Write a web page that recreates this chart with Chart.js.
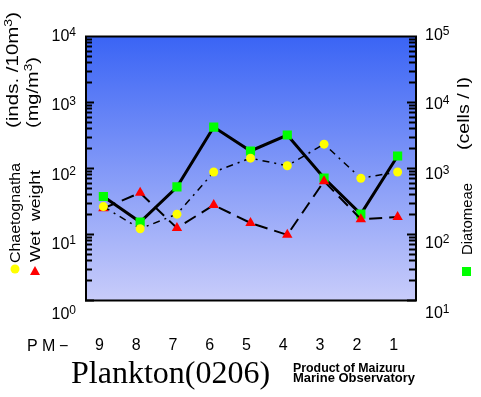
<!DOCTYPE html>
<html>
<head>
<meta charset="utf-8">
<script src="https://cdn.jsdelivr.net/npm/chart.js@4.4.0/dist/chart.umd.min.js"></script>
<style>
  html, body { margin: 0; padding: 0; background: #fff; }
  #wrap { width: 481px; height: 397px; }
</style>
</head>
<body>
<div id="wrap"><canvas id="plankton" width="481" height="397"></canvas></div>
<script>
// station numbers along the bottom (PM-9 ... PM-1)
const stations = ['9', '8', '7', '6', '5', '4', '3', '2', '1'];
// left axis: inds./10m3 and mg/m3
const chaetognatha = [26, 12, 20, 87, 141, 108, 230, 70, 87];
const wetWeight = [24.5, 42, 12.3, 27.5, 14.7, 9.7, 63, 16.8, 18.1];
// right axis: cells/l
const diatomeae = [370, 152, 516, 4170, 1810, 3160, 705, 200, 1520];
// decade labels
const leftExponents = [0, 1, 2, 3, 4];
const rightExponents = [1, 2, 3, 4, 5];

const SANS = '"Liberation Sans", Arial, Helvetica, sans-serif';
const SERIF = '"Liberation Serif", "Times New Roman", serif';
Chart.defaults.font.family = SANS;

function drawPower(ctx, exp, x, yMid, align) {
    ctx.font = '16px ' + SANS;
    const wBase = ctx.measureText('10').width;
    ctx.font = '12px ' + SANS;
    const wExp = ctx.measureText(String(exp)).width;
    const x0 = align === 'right' ? x - wBase - wExp : x;
    const base = yMid + 6;
    ctx.textAlign = 'left';
    ctx.textBaseline = 'alphabetic';
    ctx.font = '16px ' + SANS;
    ctx.fillText('10', x0, base);
    ctx.font = '12px ' + SANS;
    ctx.fillText(String(exp), x0 + wBase, base - 5);
}

// rotated text reading bottom to top, stretched to a given length
function drawVertical(ctx, parts, x, yStart, length) {
    ctx.save();
    ctx.translate(x, yStart);
    ctx.rotate(-Math.PI / 2);
    ctx.textAlign = 'left';
    ctx.textBaseline = 'alphabetic';
    let total = 0;
    parts.forEach(p => {
        ctx.font = p.size + 'px ' + SANS;
        p.w = ctx.measureText(p.text).width;
        total += p.w;
    });
    if (length) ctx.scale(length / total, 1);
    let cx = 0;
    parts.forEach(p => {
        ctx.font = p.size + 'px ' + SANS;
        ctx.fillText(p.text, cx, -(p.rise || 0));
        cx += p.w;
    });
    ctx.restore();
}

function drawFitted(ctx, text, font, x, y, width) {
    ctx.save();
    ctx.font = font;
    const w = ctx.measureText(text).width;
    ctx.translate(x, y);
    ctx.scale(width / w, 1);
    ctx.textAlign = 'left';
    ctx.textBaseline = 'alphabetic';
    ctx.fillText(text, 0, 0);
    ctx.restore();
}

const framePlugin = {
    id: 'frame',
    beforeDraw(chart) {
        const ctx = chart.ctx;
        ctx.save();
        ctx.fillStyle = '#fff';
        ctx.fillRect(0, 0, chart.width, chart.height);
        ctx.restore();
    },
    beforeDatasetsDraw(chart) {
        const { ctx, chartArea: a } = chart;
        const g = ctx.createLinearGradient(0, a.top, 0, a.bottom);
        g.addColorStop(0, '#3a64f5');
        g.addColorStop(1, '#c8ccfa');
        ctx.save();
        ctx.fillStyle = g;
        ctx.fillRect(a.left, a.top, a.right - a.left, a.bottom - a.top);
        ctx.restore();
    },
    afterDatasetsDraw(chart) {
        const { ctx, chartArea: a, scales } = chart;
        ctx.save();
        ctx.strokeStyle = '#000';
        ctx.lineWidth = 2;
        ctx.beginPath();
        // inward ticks on both log axes
        [[scales.y, a.left, 1, leftExponents], [scales.y2, a.right, -1, rightExponents]].forEach(([s, x0, dir, exps]) => {
            for (let e = exps[0]; e < exps[exps.length - 1]; e++) {
                for (let k = 1; k <= 9; k++) {
                    const y = Math.round(s.getPixelForValue(k * Math.pow(10, e))) + 0.5;
                    const len = k === 1 ? 9 : 7;
                    ctx.moveTo(x0, y);
                    ctx.lineTo(x0 + dir * len, y);
                }
            }
        });
        ctx.stroke();
        ctx.strokeRect(a.left + 1, a.top + 0.5, a.right - a.left - 1, a.bottom - a.top);
        ctx.restore();
    },
    afterDraw(chart) {
        const { ctx, scales } = chart;
        ctx.save();
        ctx.fillStyle = '#000';
        const top = leftExponents[leftExponents.length - 1];
        leftExponents.forEach(e => {
            const y = scales.y.getPixelForValue(Math.pow(10, e)) + (top - e) * 3.4 - 1;
            drawPower(ctx, e, 76, y, 'right');
        });
        const topR = rightExponents[rightExponents.length - 1];
        rightExponents.forEach(e => {
            const y = scales.y2.getPixelForValue(Math.pow(10, e)) + (topR - e) * 3.4 - 2;
            drawPower(ctx, e, 425, y, 'left');
        });

        // axis titles
        drawVertical(ctx, [{ text: '(inds. /10m', size: 16 }, { text: '3', size: 11, rise: 6 }, { text: ')', size: 16 }], 18, 128, 116);
        drawVertical(ctx, [{ text: '(mg/m', size: 16 }, { text: '3', size: 11, rise: 6 }, { text: ')', size: 16 }], 38, 128, 71);
        drawVertical(ctx, [{ text: '(cells / l)', size: 16 }], 469, 150, 73);

        // legend entries
        drawVertical(ctx, [{ text: 'Chaetognatha', size: 15 }], 20, 263, 100);
        drawVertical(ctx, [{ text: 'Wet  weight', size: 15 }], 40, 262, 92);
        drawVertical(ctx, [{ text: 'Diatomeae', size: 15 }], 472, 255, 72);
        ctx.fillStyle = '#ffff00';
        ctx.beginPath();
        ctx.arc(15, 269, 4.5, 0, Math.PI * 2);
        ctx.fill();
        ctx.fillStyle = '#ff0000';
        ctx.beginPath();
        ctx.moveTo(35, 266);
        ctx.lineTo(40, 275);
        ctx.lineTo(30, 275);
        ctx.closePath();
        ctx.fill();
        ctx.fillStyle = '#00ff00';
        ctx.fillRect(462, 267, 9, 9);

        // bottom texts
        ctx.fillStyle = '#000';
        ctx.font = '16px ' + SANS;
        ctx.textAlign = 'left';
        ctx.textBaseline = 'alphabetic';
        ctx.fillText('P', 27, 351);
        ctx.fillText('M', 42, 351);
        ctx.fillText('\u2212', 59, 351);
        ctx.font = '32px ' + SERIF;
        ctx.fillText('Plankton(0206)', 71, 383);
        drawFitted(ctx, 'Product of Maizuru', 'bold 12px ' + SANS, 293, 372, 112);
        drawFitted(ctx, 'Marine Observatory', 'bold 12px ' + SANS, 293, 381.5, 122);
        ctx.restore();
    }
};

new Chart(document.getElementById('plankton'), {
    type: 'line',
    data: {
        labels: stations,
        datasets: [
            {
                label: 'Chaetognatha',
                data: chaetognatha,
                yAxisID: 'y',
                order: 0,
                borderColor: '#000',
                borderWidth: 1.5,
                borderDash: [7, 5, 2, 5],
                pointStyle: 'circle',
                pointRadius: 4.5,
                pointBackgroundColor: '#ffff00',
                pointBorderColor: '#ffff00',
                pointBorderWidth: 0
            },
            {
                label: 'Wet weight',
                data: wetWeight,
                yAxisID: 'y',
                order: 1,
                borderColor: '#000',
                borderWidth: 2,
                borderDash: [13, 7],
                pointStyle: 'triangle',
                pointRadius: 6,
                pointBackgroundColor: '#ff0000',
                pointBorderColor: '#ff0000',
                pointBorderWidth: 0
            },
            {
                label: 'Diatomeae',
                data: diatomeae,
                yAxisID: 'y2',
                order: 2,
                borderColor: '#000',
                borderWidth: 3,
                pointStyle: 'rect',
                pointRadius: 6.5,
                pointBackgroundColor: '#00ff00',
                pointBorderColor: '#00ff00',
                pointBorderWidth: 0
            }
        ]
    },
    options: {
        responsive: false,
        animation: false,
        layout: { autoPadding: false, padding: { top: 36, left: 0, right: 0, bottom: 0 } },
        plugins: { legend: { display: false }, tooltip: { enabled: false } },
        elements: { line: { tension: 0, fill: false } },
        scales: {
            x: {
                type: 'category',
                offset: true,
                grid: { display: false, drawTicks: false },
                border: { display: false },
                ticks: { color: '#000', font: { size: 16 }, padding: 36, labelOffset: -4, maxRotation: 0, autoSkip: false },
                afterFit: s => { s.height = 97; }
            },
            y: {
                type: 'logarithmic',
                position: 'left',
                min: 1,
                max: 10000,
                grid: { display: false },
                border: { display: false },
                ticks: { display: false },
                afterFit: s => { s.width = 85; }
            },
            y2: {
                type: 'logarithmic',
                position: 'right',
                min: 10,
                max: 100000,
                grid: { display: false },
                border: { display: false },
                ticks: { display: false },
                afterFit: s => { s.width = 65; }
            }
        }
    },
    plugins: [framePlugin]
});
</script>
</body>
</html>
